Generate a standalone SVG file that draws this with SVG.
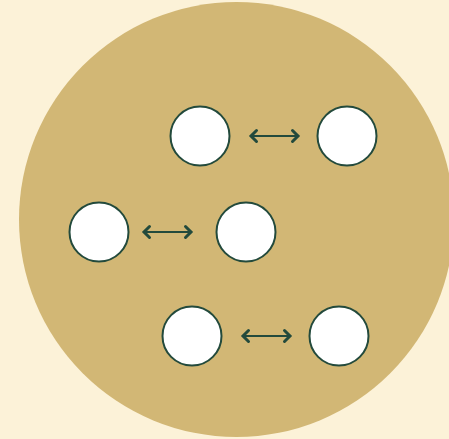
<svg xmlns="http://www.w3.org/2000/svg" width="449" height="439" viewBox="0 0 449 439">
<style>
.node{fill:#ffffff;stroke:#234a3c;stroke-width:2}
.conn{fill:none;stroke:#234a3c;stroke-width:2;stroke-linecap:round}
.head{fill:none;stroke:#234a3c;stroke-width:3;stroke-linecap:round;stroke-linejoin:miter}
</style>
<rect x="0" y="0" width="449" height="439" fill="#fcf2d8"/>
<circle cx="236.5" cy="219.5" r="217.5" fill="#d2b775"/>
<g id="n1"><circle class="node" cx="200" cy="136" r="29.5"/></g>
<g id="n2"><circle class="node" cx="347" cy="136" r="29.5"/></g>
<g id="n3"><circle class="node" cx="99" cy="232" r="29.5"/></g>
<g id="n4"><circle class="node" cx="246" cy="232" r="29.5"/></g>
<g id="n5"><circle class="node" cx="192" cy="336" r="29.5"/></g>
<g id="n6"><circle class="node" cx="339" cy="336" r="29.5"/></g>
<g id="connectors">
<path class="conn" d="M252 136H297"/>
<path class="head" d="M256.5 130.5L251 136L256.5 141.5M292.5 130.5L298 136L292.5 141.5"/>
<path class="conn" d="M145 232H190"/>
<path class="head" d="M149.5 226.5L144 232L149.5 237.5M185.5 226.5L191 232L185.5 237.5"/>
<path class="conn" d="M244 336H289"/>
<path class="head" d="M248.5 330.5L243 336L248.5 341.5M284.5 330.5L290 336L284.5 341.5"/>
</g>
</svg>
